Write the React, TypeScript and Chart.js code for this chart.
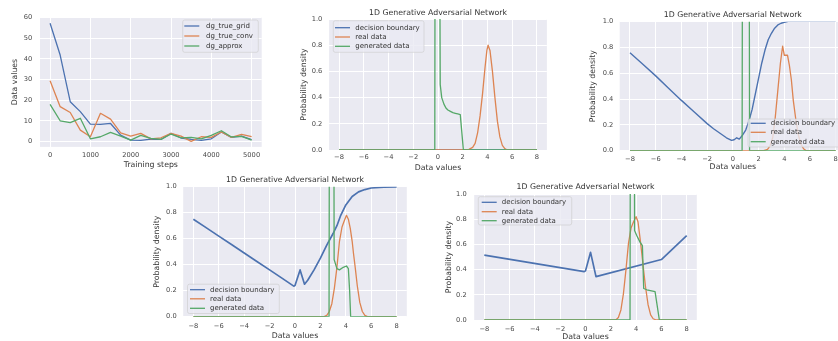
import React, { useEffect, useRef } from 'react';
import { Chart, registerables } from 'chart.js';

Chart.register(...registerables);

const FONT = '"DejaVu Sans", sans-serif';
const BG = '#EAEAF2';
const LAB = '#333333';
const TICK = '#474747';
const BLUE = '#4C72B0';
const ORANGE = '#DD8452';
const GREEN = '#55A868';

// ---------- Panel 1: training curves ----------
const steps = [0, 250, 500, 750, 1000, 1250, 1500, 1750, 2000, 2250, 2500, 2750, 3000, 3250, 3500, 3750, 4000, 4250, 4500, 4750, 5000];
const dgTrueGrid = [57.1, 41.8, 19.3, 14.5, 8.5, 8.4, 8.8, 3.2, 0.8, 0.6, 1.3, 1.1, 4.0, 1.8, 1.1, 0.6, 1.4, 4.7, 2.1, 2.7, 1.0];
const dgTrueConv = [29.4, 16.9, 14.1, 5.6, 2.4, 13.7, 10.9, 4.3, 2.7, 4.0, 1.4, 1.9, 4.0, 2.7, 0.2, 2.4, 2.1, 4.7, 2.1, 3.5, 2.4];
const dgApprox = [18.0, 10.1, 9.2, 11.3, 1.4, 2.4, 4.5, 2.7, 0.8, 3.1, 1.6, 1.1, 3.7, 1.9, 2.1, 1.4, 3.1, 5.3, 2.3, 2.6, 0.8];
const trainNames = ['dg_true_grid', 'dg_true_conv', 'dg_approx'];
const stepTicks = [0, 1000, 2000, 3000, 4000, 5000];
const valueTicks = [0, 10, 20, 30, 40, 50, 60];

// ---------- Panels 2-5: 1D GAN densities ([x, y] pairs) ----------
const ganNames = ['decision boundary', 'real data', 'generated data'];
const ganTitle = '1D Generative Adversarial Network';
const densXTicks = [-8, -6, -4, -2, 0, 2, 4, 6, 8];
const densYTicks = [0, 0.2, 0.4, 0.6, 0.8, 1.0];

const p2Boundary = [[-8, 0], [8, 0]];
const p2Real = [[-8, 0], [2.2, 0], [2.5, 0.005], [2.8, 0.02], [3.0, 0.05], [3.2, 0.13], [3.4, 0.26], [3.6, 0.43], [3.8, 0.63], [3.95, 0.76], [4.05, 0.8], [4.2, 0.76], [4.4, 0.6], [4.6, 0.4], [4.8, 0.22], [5.0, 0.1], [5.2, 0.035], [5.4, 0.01], [5.6, 0], [8, 0]];
const p2Generated = [[-8, 0], [-0.26, 0], [-0.2, 4.5], [0.05, 4.0], [0.18, 0.5], [0.3, 0.4], [0.48, 0.35], [0.64, 0.32], [0.8, 0.305], [1.0, 0.295], [1.2, 0.285], [1.4, 0.28], [1.6, 0.275], [1.8, 0.27], [2.05, 0], [8, 0]];

const p3Boundary = [[-8, 0.76], [-7, 0.67], [-6, 0.58], [-5, 0.485], [-4, 0.39], [-3, 0.3], [-2, 0.21], [-1.5, 0.17], [-1, 0.135], [-0.5, 0.1], [-0.1, 0.08], [0.1, 0.085], [0.3, 0.1], [0.5, 0.09], [0.75, 0.12], [1.0, 0.16], [1.25, 0.23], [1.5, 0.32], [1.75, 0.44], [2.0, 0.56], [2.25, 0.68], [2.5, 0.78], [2.75, 0.86], [3.0, 0.91], [3.25, 0.95], [3.5, 0.975], [3.75, 0.988], [4.0, 0.995], [4.3, 1.003], [8, 1.003]];
const p3Real = [[-8, 0], [2.4, 0], [2.7, 0.01], [2.9, 0.04], [3.1, 0.1], [3.3, 0.26], [3.5, 0.47], [3.7, 0.68], [3.87, 0.81], [4.0, 0.74], [4.25, 0.74], [4.4, 0.66], [4.55, 0.55], [4.7, 0.39], [4.9, 0.24], [5.1, 0.12], [5.3, 0.05], [5.5, 0.015], [5.7, 0], [8, 0]];
const p3Generated = [[-8, 0], [0.72, 0], [0.8, 5], [1.0, 6], [1.22, 5], [1.3, 0], [8, 0]];

const p4Boundary = [[-8, 0.75], [-7, 0.685], [-6, 0.62], [-5, 0.555], [-4, 0.49], [-3, 0.425], [-2, 0.36], [-1, 0.295], [-0.1, 0.235], [0.0, 0.24], [0.4, 0.36], [0.75, 0.25], [1.0, 0.28], [1.5, 0.36], [2.0, 0.45], [2.5, 0.55], [3.0, 0.64], [3.3, 0.7], [3.6, 0.78], [4.0, 0.86], [4.5, 0.925], [5.0, 0.96], [5.5, 0.978], [6.0, 0.99], [7.0, 0.997], [8.0, 0.999]];
const p4Real = [[-8, 0], [2.3, 0], [2.5, 0.01], [2.7, 0.04], [2.9, 0.1], [3.1, 0.22], [3.3, 0.38], [3.5, 0.58], [3.7, 0.69], [3.85, 0.73], [4.05, 0.78], [4.2, 0.75], [4.35, 0.68], [4.5, 0.58], [4.6, 0.49], [4.75, 0.37], [4.9, 0.24], [5.1, 0.11], [5.3, 0.04], [5.5, 0.01], [5.7, 0], [8, 0]];
const p4Generated = [[-8, 0], [2.68, 0], [2.76, 5], [2.9, 6], [3.0, 5], [3.08, 0.44], [3.3, 0.37], [3.5, 0.36], [3.8, 0.38], [4.05, 0.39], [4.2, 0.37], [4.3, 0.2], [4.38, 0], [8, 0]];

const p5Boundary = [[-8, 0.515], [-0.1, 0.384], [0.0, 0.39], [0.4, 0.537], [0.83, 0.344], [6.0, 0.48], [8.0, 0.67]];
const p5Real = [[-8, 0], [2.4, 0], [2.6, 0.02], [2.8, 0.08], [3.0, 0.21], [3.2, 0.4], [3.4, 0.61], [3.6, 0.73], [3.8, 0.78], [4.0, 0.82], [4.15, 0.78], [4.3, 0.66], [4.45, 0.53], [4.6, 0.39], [4.75, 0.26], [4.95, 0.12], [5.15, 0.04], [5.35, 0.01], [5.6, 0], [8, 0]];
const p5Generated = [[-8, 0], [3.52, 0], [3.6, 5], [3.7, 6], [3.8, 5], [3.88, 0.71], [4.05, 0.67], [4.3, 0.62], [4.5, 0.59], [4.6, 0.25], [4.85, 0.24], [5.5, 0.225], [5.84, 0], [8, 0]];

const TITLE_F = 7.8;
const TICK_F = 6.7;
const LEG_F = 7;

type Legend = { x: number; y: number; w: number; h: number; rows: number[]; lineX: number; textX: number };
type Spec = {
  canvas: number[];
  plot: number[];
  title?: string;
  titleY?: number;
  yTitleX: number;
  xTitleY: number;
  xTickY: number;
  yTickRight: number;
  xLabel: string;
  yLabel: string;
  xRange: number[];
  yRange: number[];
  xTicks: number[];
  yTicks: number[];
  xFmt: (v: number) => string;
  yFmt: (v: number) => string;
  series: { label: string; data: { x: number; y: number }[]; color: string; width: number }[];
  legend: Legend;
};

const signed = (v: number) => (v < 0 ? '\u2212' + Math.abs(v) : String(v));
const oneDec = (v: number) => v.toFixed(1);
const pts = (pairs: number[][]) => pairs.map(([x, y]) => ({ x, y }));
const stepPts = (vals: number[]) => steps.map((s, i) => ({ x: s, y: vals[i] }));

function ganSeries(b: number[][], r: number[][], g: number[][], bw: number) {
  return [
    { label: ganNames[0], data: pts(b), color: BLUE, width: bw },
    { label: ganNames[1], data: pts(r), color: ORANGE, width: 1.3 },
    { label: ganNames[2], data: pts(g), color: GREEN, width: 1.3 },
  ];
}

const specs: Spec[] = [
  {
    canvas: [0, 0, 280, 175], plot: [40, 17.2, 261.7, 146.9],
    yTitleX: 15, xTitleY: 164.5, xTickY: 155, yTickRight: 32.3,
    xLabel: 'Training steps', yLabel: 'Data values',
    xRange: [-250, 5250], yRange: [-2.5, 60.05], xTicks: stepTicks, yTicks: valueTicks,
    xFmt: (v) => String(v), yFmt: (v) => String(v),
    series: [
      { label: trainNames[0], data: stepPts(dgTrueGrid), color: BLUE, width: 1.3 },
      { label: trainNames[1], data: stepPts(dgTrueConv), color: ORANGE, width: 1.3 },
      { label: trainNames[2], data: stepPts(dgApprox), color: GREEN, width: 1.3 },
    ],
    legend: { x: 182.7, y: 20, w: 75.6, h: 32.3, rows: [26, 36, 46], lineX: 184.3, textX: 206 },
  },
  {
    canvas: [295, 0, 260, 175], plot: [329.1, 19, 546.9, 150], title: ganTitle, titleY: 13.3,
    yTitleX: 304, xTitleY: 168, xTickY: 157.5, yTickRight: 322.3,
    xLabel: 'Data values', yLabel: 'Probability density',
    xRange: [-8.8, 8.8], yRange: [0, 1], xTicks: densXTicks, yTicks: densYTicks,
    xFmt: signed, yFmt: oneDec,
    series: ganSeries(p2Boundary, p2Real, p2Generated, 1.3),
    legend: { x: 333.3, y: 20.7, w: 90.7, h: 31.6, rows: [27.7, 37, 46.3], lineX: 335, textX: 355.3 },
  },
  {
    canvas: [585, 0, 280, 175], plot: [619.7, 21.7, 846, 150.7], title: ganTitle, titleY: 15,
    yTitleX: 593, xTitleY: 167, xTickY: 159.5, yTickRight: 613.3,
    xLabel: 'Data values', yLabel: 'Probability density',
    xRange: [-8.8, 8.8], yRange: [0, 1], xTicks: densXTicks, yTicks: densYTicks,
    xFmt: signed, yFmt: oneDec,
    series: ganSeries(p3Boundary, p3Real, p3Generated, 1.4),
    legend: { x: 748, y: 119, w: 100, h: 28, rows: [123.3, 132.3, 141.7], lineX: 750.7, textX: 770.7 },
  },
  {
    canvas: [145, 170, 270, 175], plot: [183.2, 186.7, 406.8, 316.7], title: ganTitle, titleY: 180,
    yTitleX: 156.7, xTitleY: 335.5, xTickY: 326, yTickRight: 176.7,
    xLabel: 'Data values', yLabel: 'Probability density',
    xRange: [-8.8, 8.8], yRange: [0, 1], xTicks: densXTicks, yTicks: densYTicks,
    xFmt: signed, yFmt: oneDec,
    series: ganSeries(p4Boundary, p4Real, p4Generated, 1.7),
    legend: { x: 187.5, y: 284.2, w: 91.8, h: 29.3, rows: [289.7, 298.8, 308.3], lineX: 190, textX: 210 },
  },
  {
    canvas: [440, 175, 270, 175], plot: [474.2, 194, 696.8, 320], title: ganTitle, titleY: 187.3,
    yTitleX: 449.3, xTitleY: 336.7, xTickY: 329.3, yTickRight: 466.7,
    xLabel: 'Data values', yLabel: 'Probability density',
    xRange: [-8.8, 8.8], yRange: [0, 1], xTicks: densXTicks, yTicks: densYTicks,
    xFmt: signed, yFmt: oneDec,
    series: ganSeries(p5Boundary, p5Real, p5Generated, 1.7),
    legend: { x: 478.3, y: 196.7, w: 93.4, h: 28.3, rows: [202.3, 211.7, 220.7], lineX: 481.7, textX: 501.7 },
  },
];

function Panel({ spec }: { spec: Spec }) {
  const ref = useRef<HTMLCanvasElement>(null);
  useEffect(() => {
    const [cx, cy, cw, ch] = spec.canvas;
    const [pl, pt, pr, pb] = spec.plot;
    const yW = pl - cx;
    const xH = cy + ch - pb;
    const padR = cx + cw - pr;
    const half = TITLE_F * 0.6;
    const hasTitle = !!spec.title;
    const lg = spec.legend;

    const bgPlugin = {
      id: 'bgfill',
      beforeDraw(chart: any) {
        const { ctx, chartArea: a } = chart;
        ctx.save();
        ctx.fillStyle = BG;
        ctx.fillRect(a.left, a.top, a.right - a.left, a.bottom - a.top);
        ctx.restore();
      },
    };
    const legendPlugin = {
      id: 'mplLegend',
      afterDatasetsDraw(chart: any) {
        const ctx = chart.ctx;
        const bx = lg.x - cx, by = lg.y - cy;
        ctx.save();
        ctx.beginPath();
        const r = 2;
        ctx.moveTo(bx + r, by);
        ctx.lineTo(bx + lg.w - r, by);
        ctx.quadraticCurveTo(bx + lg.w, by, bx + lg.w, by + r);
        ctx.lineTo(bx + lg.w, by + lg.h - r);
        ctx.quadraticCurveTo(bx + lg.w, by + lg.h, bx + lg.w - r, by + lg.h);
        ctx.lineTo(bx + r, by + lg.h);
        ctx.quadraticCurveTo(bx, by + lg.h, bx, by + lg.h - r);
        ctx.lineTo(bx, by + r);
        ctx.quadraticCurveTo(bx, by, bx + r, by);
        ctx.closePath();
        ctx.fillStyle = 'rgba(234,234,242,0.8)';
        ctx.fill();
        ctx.strokeStyle = 'rgba(204,204,204,0.8)';
        ctx.lineWidth = 0.8;
        ctx.stroke();
        chart.data.datasets.forEach((ds: any, i: number) => {
          const ry = lg.rows[i] - cy;
          ctx.beginPath();
          ctx.strokeStyle = ds.borderColor;
          ctx.lineWidth = 1.3;
          ctx.moveTo(lg.lineX - cx, ry);
          ctx.lineTo(lg.lineX - cx + 15, ry);
          ctx.stroke();
          ctx.fillStyle = LAB;
          ctx.font = `${LEG_F}px ${FONT}`;
          ctx.textAlign = 'left';
          ctx.textBaseline = 'middle';
          ctx.fillText(ds.label, lg.textX - cx, ry);
        });
        ctx.restore();
      },
    };

    const n = spec.series.length;
    const chart = new Chart(ref.current as HTMLCanvasElement, {
      type: 'line',
      data: {
        datasets: spec.series.map((s, i) => ({
          label: s.label,
          data: s.data,
          borderColor: s.color,
          backgroundColor: s.color,
          borderWidth: s.width,
          pointRadius: 0,
          tension: 0,
          fill: false,
          borderJoinStyle: 'round',
          order: n - i,
        })),
      },
      options: {
        animation: false,
        responsive: false,
        devicePixelRatio: 1,
        events: [],
        layout: { autoPadding: false, padding: { left: 0, right: padR, bottom: 0, top: hasTitle ? 0 : pt - cy } },
        plugins: {
          legend: { display: false },
          tooltip: { enabled: false },
          title: hasTitle
            ? {
                display: true,
                text: spec.title,
                fullSize: false,
                color: LAB,
                font: { family: FONT, size: TITLE_F, weight: 'normal', lineHeight: 1.2 },
                padding: { top: (spec.titleY as number) - cy - half, bottom: pt - (spec.titleY as number) - half },
              }
            : { display: false },
        },
        scales: {
          x: {
            type: 'linear',
            min: spec.xRange[0],
            max: spec.xRange[1],
            afterBuildTicks: (s: any) => { s.ticks = spec.xTicks.map((v) => ({ value: v })); },
            afterFit: (s: any) => { s.height = xH; },
            grid: { color: '#ffffff', lineWidth: 1, drawTicks: false },
            border: { display: false },
            ticks: {
              autoSkip: false, maxRotation: 0, color: TICK,
              padding: spec.xTickY - pb - TICK_F * 0.6,
              font: { family: FONT, size: TICK_F, lineHeight: 1.2 },
              callback: (v: any) => spec.xFmt(Number(v)),
            },
            title: {
              display: true, text: spec.xLabel, color: LAB,
              font: { family: FONT, size: TITLE_F, lineHeight: 1.2 },
              padding: { top: 0, bottom: cy + ch - spec.xTitleY - half },
            },
          },
          y: {
            type: 'linear',
            min: spec.yRange[0],
            max: spec.yRange[1],
            afterBuildTicks: (s: any) => { s.ticks = spec.yTicks.map((v) => ({ value: v })); },
            afterFit: (s: any) => { s.width = yW; },
            grid: { color: '#ffffff', lineWidth: 1, drawTicks: false },
            border: { display: false },
            ticks: {
              autoSkip: false, color: TICK,
              padding: pl - spec.yTickRight,
              font: { family: FONT, size: TICK_F, lineHeight: 1.2 },
              callback: (v: any) => spec.yFmt(Number(v)),
            },
            title: {
              display: true, text: spec.yLabel, color: LAB,
              font: { family: FONT, size: TITLE_F, lineHeight: 1.2 },
              padding: { top: spec.yTitleX - cx - half, bottom: 0 },
            },
          },
        },
      } as any,
      plugins: [bgPlugin, legendPlugin],
    });
    return () => chart.destroy();
  }, [spec]);

  const [cx, cy, cw, ch] = spec.canvas;
  return (
    <canvas
      ref={ref}
      width={cw}
      height={ch}
      style={{ position: 'absolute', left: cx, top: cy, width: cw, height: ch }}
    />
  );
}

export default function App() {
  return (
    <div
      style={{
        position: 'fixed', left: 0, top: 0, width: 838, height: 341,
        overflow: 'hidden', background: '#ffffff',
      }}
    >
      {specs.map((s, i) => (
        <Panel key={i} spec={s} />
      ))}
    </div>
  );
}
